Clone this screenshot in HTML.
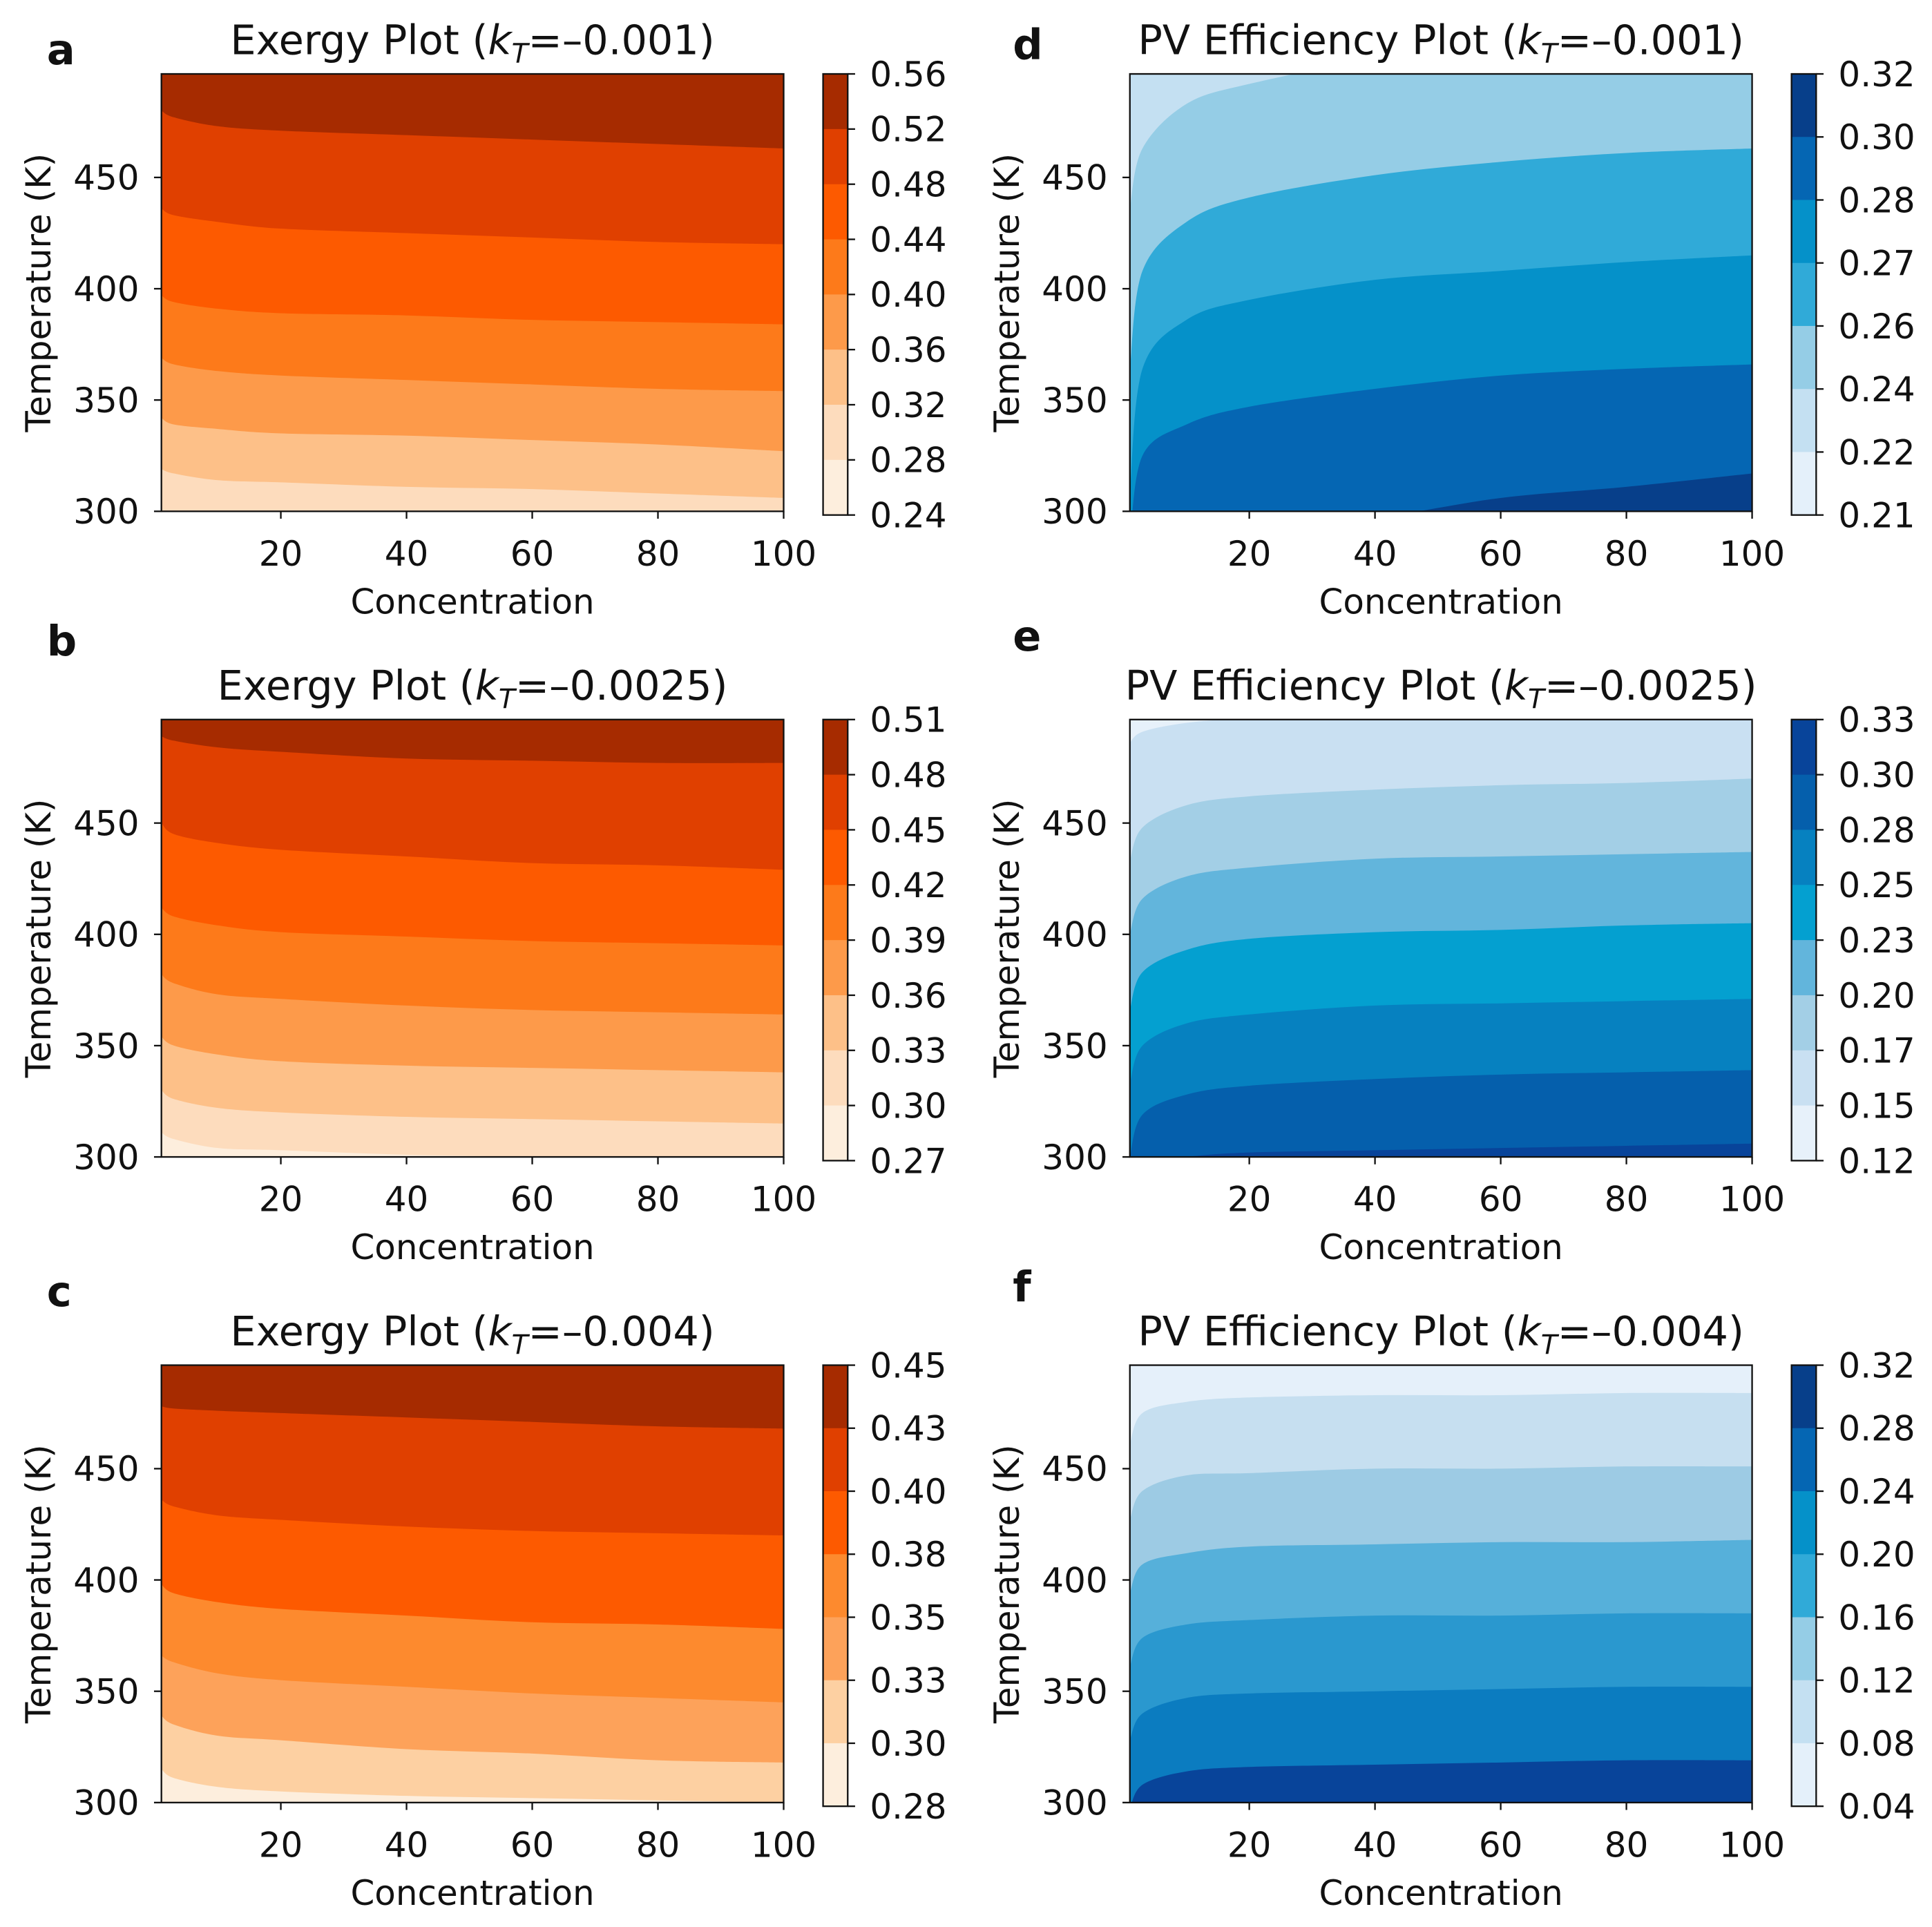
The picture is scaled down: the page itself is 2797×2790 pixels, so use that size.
<!DOCTYPE html>
<html><head><meta charset="utf-8"><style>
html,body{margin:0;padding:0;background:#fff;}
svg{display:block;}
text{font-family:"DejaVu Sans","Liberation Sans",sans-serif;fill:#111;}
</style></head>
<body>
<svg id="fig" width="2797" height="2790" viewBox="0 0 1568 1564" preserveAspectRatio="none" xmlns="http://www.w3.org/2000/svg"></svg>
<script>
// shared x samples (Concentration) for contour boundaries
const xSamples = [1, 3, 10, 20, 40, 60, 80, 100];
const xTicks = [20, 40, 60, 80, 100];
const yTicks = [300, 350, 400, 450];

// Panel a: Exergy kT=-0.001 boundaries (Temperature, K), top to bottom
const aBounds = [
  [480,477,473,471,469,467,465,463],
  [436,433,430,427,425,423,421,420],
  [397,394,391,389,388,386,385,384],
  [369,366,363,361,359,357,355,354],
  [342,339,337,335,334,332,330,327],
  [319,317,314,313,311,310,308,306]
];
const aCbar = ["0.56","0.52","0.48","0.44","0.40","0.36","0.32","0.28","0.24"];
// Panel b
const bBounds = [
  [489,487,484,482,479,478,477,477],
  [450,445,441,438,435,432,431,429],
  [412,408,404,401,399,397,396,395],
  [382,378,373,371,368,366,365,364],
  [354,350,346,343,341,340,339,338],
  [330,326,322,320,318,317,316,315],
  [311,308,304,303,301,300,299,299]
];
const bCbar = ["0.51","0.48","0.45","0.42","0.39","0.36","0.33","0.30","0.27"];
// Panel c
const cBounds = [
  [478,477,476,475,473,471,469,468],
  [436,433,429,427,424,422,421,420],
  [398,394,390,387,384,381,380,378],
  [366,363,358,355,352,349,347,345],
  [339,335,330,328,324,322,319,318],
  [315,311,307,305,303,302,301,300]
];
const cCbar = ["0.45","0.43","0.40","0.38","0.35","0.33","0.30","0.28"];
// Panel d
const dBounds = [
  [436,463,483,492,503,508,511,513],
  [364,408,430,441,451,457,461,463],
  [308,364,386,395,404,408,412,415],
  [286,325,339,347,355,361,364,366],
  [286,286,286,292,297,306,311,317]
];
const dCbar = ["0.32","0.30","0.28","0.27","0.26","0.24","0.22","0.21"];
// Panel e
const eBounds = [
  [486,491,495,497,499,501,502,502],
  [433,448,458,462,465,467,468,470],
  [400,416,426,430,434,435,436,437],
  [366,383,393,398,401,402,404,405],
  [333,350,360,364,368,369,370,371],
  [300,319,328,332,335,337,338,339],
  [289,297,300,302,303,304,305,306]
];
const eCbar = ["0.33","0.30","0.28","0.25","0.23","0.20","0.17","0.15","0.12"];
// Panel f
const fBounds = [
  [461,475,480,482,483,483,484,484],
  [427,440,447,448,450,450,451,451],
  [394,407,412,415,416,417,417,418],
  [361,374,380,382,384,384,385,385],
  [328,340,347,349,350,351,352,352],
  [297,308,314,316,317,318,319,319]
];
const fCbar = ["0.32","0.28","0.24","0.20","0.16","0.12","0.08","0.04"];

const OR8 = ["#a62b00","#e04000","#fd5a00","#fd7a1a","#fd9a4a","#fdc088","#fddcbd","#fdeedd"];
const OR7 = ["#a62b00","#e04000","#fd5a00","#fd8a2e","#fda25a","#fdd0a2","#fdeedd"];
const BL7 = ["#073f8a","#0566b3","#0591c9","#30aad8","#95cde6","#c4e0f2","#e4f0fa"];
const BL8 = ["#08449a","#055fac","#0681c0","#04a0d0","#62b5dc","#a3cfe6","#c9e0f2","#e7f1fa"];

const panels = [
  {id:"a",title:"Exergy Plot (",k:"=\u20130.001)",x0:131,y0:60,bounds:aBounds,fill:OR8.slice(0,7),cbar:aCbar,cc:OR8,lx:38,ly:52},
  {id:"b",title:"Exergy Plot (",k:"=\u20130.0025)",x0:131,y0:584,bounds:bBounds,fill:OR8,cbar:bCbar,cc:OR8,lx:38,ly:532},
  {id:"c",title:"Exergy Plot (",k:"=\u20130.004)",x0:131,y0:1108,bounds:cBounds,fill:OR7,cbar:cCbar,cc:OR7,lx:38,ly:1060},
  {id:"d",title:"PV Efficiency Plot (",k:"=\u20130.001)",x0:917,y0:60,bounds:dBounds,fill:["#c4e0f2","#95cde6","#30aad8","#0591c9","#0566b3","#073f8a"],cbar:dCbar,cc:BL7,lx:822,ly:48},
  {id:"e",title:"PV Efficiency Plot (",k:"=\u20130.0025)",x0:917,y0:584,bounds:eBounds,fill:BL8.slice().reverse(),cbar:eCbar,cc:BL8,lx:822,ly:528},
  {id:"f",title:"PV Efficiency Plot (",k:"=\u20130.004)",x0:917,y0:1108,bounds:fBounds,fill:["#e5f0fa","#c6dff0","#9dcbe4","#56b0da","#2a98cf","#0b7cc0","#08449a"],cbar:fCbar,cc:BL7,lx:822,ly:1056}
];

const NS="http://www.w3.org/2000/svg";
const svg=document.getElementById('fig');
function mk(tag,attrs,parent){const e=document.createElementNS(NS,tag);for(const k in attrs)e.setAttribute(k,attrs[k]);(parent||svg).appendChild(e);return e;}

const W=505, H=355, XMIN=1, XMAX=100, YMIN=300, YMAX=496.5;
function crPath(pts){
  let d="M"+pts[0][0]+","+pts[0][1];
  for(let i=0;i<pts.length-1;i++){
    const p0=pts[Math.max(0,i-1)],p1=pts[i],p2=pts[i+1],p3=pts[Math.min(pts.length-1,i+2)];
    const c1x=p1[0]+(p2[0]-p0[0])/6,c1y=p1[1]+(p2[1]-p0[1])/6;
    const c2x=p2[0]-(p3[0]-p1[0])/6,c2y=p2[1]-(p3[1]-p1[1])/6;
    d+=" C"+c1x+","+c1y+" "+c2x+","+c2y+" "+p2[0]+","+p2[1];
  }
  return d;
}

panels.forEach(p=>{
  const g=mk('g',{});
  
  
  const sx=v=>p.x0+(v-XMIN)/(XMAX-XMIN)*W;
  const sy=v=>p.y0+H-(v-YMIN)/(YMAX-YMIN)*H;
  const cid='clip-'+p.id;
  const cp=mk('clipPath',{id:cid},g);
  mk('rect',{x:p.x0,y:p.y0,width:W,height:H},cp);
  const plot=mk('g',{'clip-path':'url(#'+cid+')'},g);
  
  
  const bg=mk('rect',{x:p.x0,y:p.y0,width:W,height:H,fill:p.fill[0]},plot);
  
  
  p.bounds.forEach((b,i)=>{
    const pts=xSamples.map((x,j)=>[sx(x),sy(b[j])]);
    const d=crPath(pts)+" L"+(p.x0+W+20)+","+pts[pts.length-1][1]+" L"+(p.x0+W+20)+","+(p.y0+H+40)+" L"+(p.x0-20)+","+(p.y0+H+40)+" L"+(p.x0-20)+","+pts[0][1]+" Z";
    const band=mk('path',{d:d,fill:p.fill[i+1]||p.fill[p.fill.length-1]},plot);
    
    
  });
  mk('rect',{x:p.x0,y:p.y0,width:W,height:H,fill:'none',stroke:'#111','stroke-width':1.3},g);
  xTicks.forEach(t=>{
    const x=sx(t);
    mk('line',{x1:x,x2:x,y1:p.y0+H,y2:p.y0+H+6,stroke:'#111','stroke-width':1.3},g);
    const tx=mk('text',{x:x,y:p.y0+H+44,'font-size':28,'text-anchor':'middle'},g);
    tx.textContent=t;
    
    
  });
  yTicks.forEach(t=>{
    const y=sy(t);
    mk('line',{x1:p.x0-6,x2:p.x0,y1:y,y2:y,stroke:'#111','stroke-width':1.3},g);
    const ty=mk('text',{x:p.x0-18,y:y+10,'font-size':28,'text-anchor':'end'},g);
    ty.textContent=t;
    
    
  });
  const xl=mk('text',{x:p.x0+W/2,y:p.y0+H+83,'font-size':28,'text-anchor':'middle'},g);
  xl.textContent="Concentration";
  
  
  const yx=p.x0-90, yy=p.y0+H/2;
  const yl=mk('text',{x:yx,y:yy,'font-size':28,'text-anchor':'middle',transform:'rotate(-90 '+yx+' '+yy+')'},g);
  yl.textContent="Temperature (K)";
  
  
  const tt=mk('text',{x:p.x0+W/2,y:p.y0-16,'font-size':33,'text-anchor':'middle'},g);
  
  
  const s1=mk('tspan',{},tt); s1.textContent=p.title;
  const s2=mk('tspan',{'font-style':'italic'},tt); s2.textContent="k";
  const s3=mk('tspan',{'font-style':'italic','font-size':22,dy:7},tt); s3.textContent="T";
  const s4=mk('tspan',{dy:-7},tt); s4.textContent=p.k;
  const lt=mk('text',{x:p.lx,y:p.ly,'font-size':34,'font-weight':'bold'},g);
  lt.textContent=p.id;
  
  
  const cx=p.x0+537, cw=20, ch=358, cy=p.y0;
  const n=p.cbar.length-1, bh=ch/n;
  const cb=mk('g',{},g);
  
  
  for(let i=0;i<n;i++){
    mk('rect',{x:cx,y:cy+i*bh,width:cw,height:bh+0.5,fill:p.cc[i]},cb);
  }
  mk('rect',{x:cx,y:cy,width:cw,height:ch,fill:'none',stroke:'#111','stroke-width':1.3},cb);
  p.cbar.forEach((l,i)=>{
    const y=cy+i*bh;
    mk('line',{x1:cx+cw,x2:cx+cw+6,y1:y,y2:y,stroke:'#111','stroke-width':1.3},cb);
    const t=mk('text',{x:cx+cw+18,y:y+10,'font-size':28},cb);
    t.textContent=l;
    
    
  });
});
</script>
</body></html>
